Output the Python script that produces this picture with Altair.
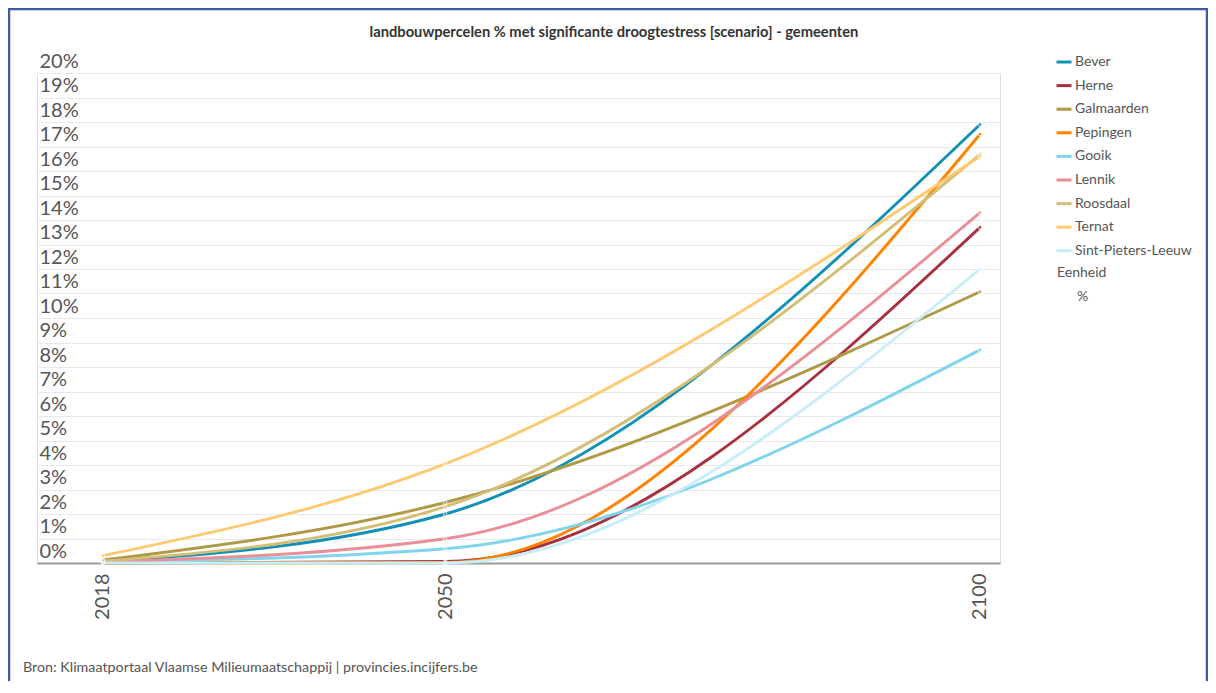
import altair as alt
import pandas as pd

years = [2018, 2050, 2100]
gemeenten = ["Bever", "Herne", "Galmaarden", "Pepingen", "Gooik",
             "Lennik", "Roosdaal", "Ternat", "Sint-Pieters-Leeuw"]
bever = [0.05, 2.0, 17.9]
herne = [0.0, 0.06, 13.7]
galmaarden = [0.12, 2.47, 11.07]
pepingen = [0.0, 0.02, 17.5]
gooik = [0.03, 0.58, 8.7]
lennik = [0.04, 0.99, 14.3]
roosdaal = [0.07, 2.3, 16.68]
ternat = [0.3, 4.05, 16.6]
sint_pieters_leeuw = [0.0, 0.0, 12.0]
colors = ["#1390b8", "#a8303f", "#b09a47", "#ff8200", "#80d4ec",
          "#ea8f98", "#d4bd74", "#ffc970", "#c5eef9"]
y_ticks = list(range(0, 21))

series = [bever, herne, galmaarden, pepingen, gooik, lennik, roosdaal,
          ternat, sint_pieters_leeuw]
rows = []
for name, vals in zip(gemeenten, series):
    for yr, v in zip(years, vals):
        rows.append({"jaar": yr, "gemeente": name, "waarde": v})
df = pd.DataFrame(rows)

FONT = "Lato"
TXT = "#555555"

x_axis = alt.Axis(values=years, title=None, format="d", labelAngle=270,
                  labelAlign="right", labelBaseline="middle",
                  labelPadding=10, labelFontSize=20, labelColor=TXT,
                  labelFont=FONT, ticks=False, grid=False,
                  domainColor="#9a9a9a", domainWidth=2,
                  labelFlush=False, labelOverlap=False)
y_axis = alt.Axis(values=y_ticks, tickCount=40, title=None,
                  labelExpr="datum.value + '%'",
                  labelAlign="left", labelBaseline="alphabetic",
                  labelPadding=-2, labelOffset=-6, labelFontSize=20,
                  labelColor=TXT, labelFont=FONT, ticks=False,
                  domain=False, grid=True, gridColor="#e8e8e8",
                  gridWidth=1, labelFlush=False, labelOverlap=False)
x_scale = alt.Scale(domain=[2011.83, 2101.87], nice=False, zero=False)
y_scale = alt.Scale(domain=[0, 20], nice=False)
c_scale = alt.Scale(domain=gemeenten, range=colors)

x_enc = alt.X("jaar:Q", scale=x_scale, axis=x_axis)
y_enc = alt.Y("waarde:Q", scale=y_scale, axis=y_axis)
color_enc = alt.Color("gemeente:N", scale=c_scale,
                      legend=alt.Legend(title=None, orient="none",
                                        legendX=1018, legendY=-20,
                                        symbolType="stroke", symbolSize=225,
                                        symbolStrokeWidth=3, labelFontSize=14,
                                        labelColor=TXT, labelFont=FONT,
                                        labelOffset=2, rowPadding=7.6,
                                        padding=0))

base = alt.Chart(df)
lines = base.mark_line(interpolate="monotone", strokeWidth=2.9).encode(
    x=x_enc, y=y_enc, color=color_enc)
points = base.mark_point(filled=True, size=12, stroke="white",
                         strokeWidth=0.8, opacity=1).encode(
    x=x_enc, y=y_enc, color=color_enc)

one = alt.Data(values=[{}])

title = alt.Chart(one).mark_text(fontSize=14.7, fontWeight="bold", color="#333333",
                                 font=FONT, align="center", baseline="middle").encode(
    x=alt.value(577), y=alt.value(-40),
    text=alt.value("landbouwpercelen % met significante droogtestress [scenario] - gemeenten"))
source = alt.Chart(one).mark_text(fontSize=14.3, color=TXT, font=FONT,
                                  align="left", baseline="middle").encode(
    x=alt.value(-14), y=alt.value(595),
    text=alt.value("Bron: Klimaatportaal Vlaamse Milieumaatschappij | provincies.incijfers.be"))
eenheid = alt.Chart(one).mark_text(fontSize=14, color=TXT, font=FONT,
                                   align="left", baseline="middle").encode(
    x=alt.value(1020), y=alt.value(200), text=alt.value("Eenheid"))
unit = alt.Chart(one).mark_text(fontSize=14, color=TXT, font=FONT,
                                align="left", baseline="middle").encode(
    x=alt.value(1040), y=alt.value(224), text=alt.value("%"))
frame = alt.Chart(one).mark_rect(fillOpacity=0, stroke="#3d5c9e",
                                 strokeWidth=2.5).encode(
    x=alt.value(-28), x2=alt.value(1170), y=alt.value(-64), y2=alt.value(660))

chart = alt.layer(frame, lines, points, title, source, eenheid, unit).properties(
    width=963, height=490,
    autosize=alt.AutoSizeParams(type="none"),
    padding={"left": 29, "top": 65, "right": 208, "bottom": 118},
).configure_view(stroke=None).configure(font=FONT)

chart.save("out.html", embed_options={"renderer": "svg", "actions": False})
